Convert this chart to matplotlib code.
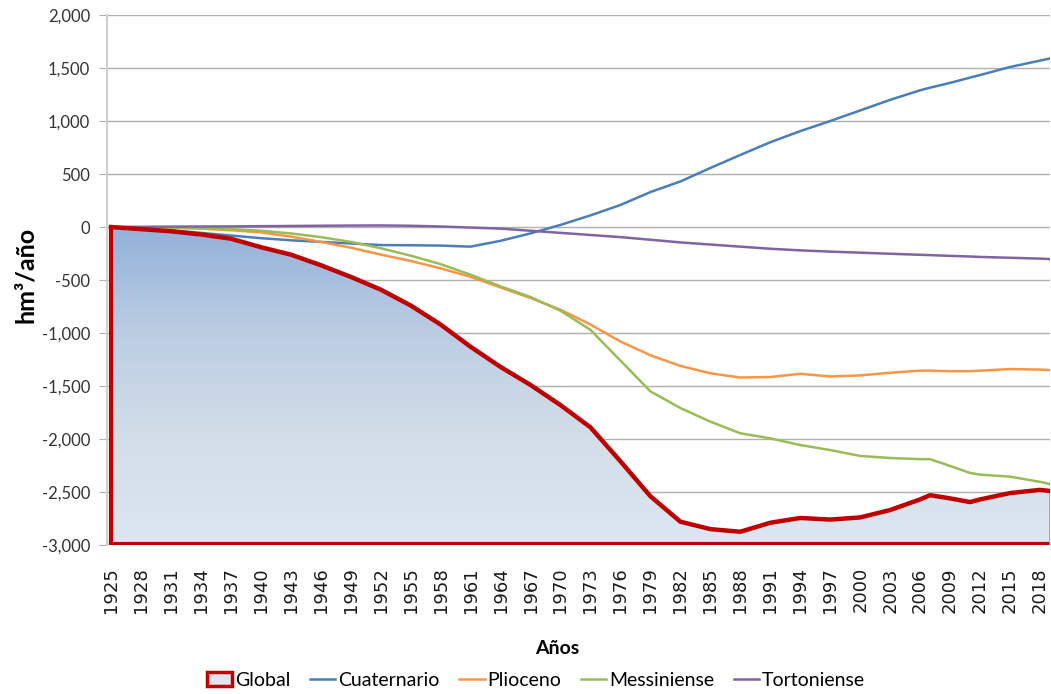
import numpy as np
import matplotlib.pyplot as plt
from matplotlib.colors import LinearSegmentedColormap
from matplotlib.lines import Line2D
from matplotlib.patches import Patch
from matplotlib.ticker import FuncFormatter

years = [1925, 1928, 1931, 1934, 1937, 1940, 1943, 1946, 1949, 1952, 1955, 1958,
         1961, 1964, 1967, 1970, 1973, 1976, 1979, 1982, 1985, 1988, 1991, 1994,
         1997, 2000, 2003, 2006, 2007, 2009, 2011, 2012, 2015, 2018, 2019]

global_vals = [0, -20, -40, -70, -110, -190, -260, -360, -470, -590, -740, -920,
               -1130, -1320, -1490, -1680, -1890, -2210, -2540, -2780, -2850, -2875, -2790, -2745,
               -2760, -2740, -2670, -2570, -2530, -2560, -2595, -2570, -2510, -2480, -2490]
cuaternario = [0, -15, -30, -55, -80, -105, -125, -140, -155, -170, -172, -175,
               -185, -130, -60, 20, 110, 208, 330, 430, 557, 680, 800, 905,
               1000, 1100, 1200, 1290, 1315, 1360, 1410, 1434, 1510, 1570, 1590]
plioceno = [0, -3, -8, -15, -30, -50, -90, -140, -195, -260, -320, -390,
            -470, -570, -670, -780, -920, -1080, -1210, -1310, -1380, -1420, -1415, -1385,
            -1410, -1400, -1375, -1355, -1355, -1360, -1360, -1355, -1340, -1345, -1350]
messiniense = [0, -2, -5, -10, -20, -35, -60, -95, -140, -200, -270, -350,
               -450, -560, -660, -790, -970, -1260, -1550, -1708, -1836, -1946, -1994, -2057,
               -2104, -2160, -2179, -2190, -2190, -2254, -2320, -2336, -2355, -2404, -2425]
tortoniense = [0, 2, 4, 5, 6, 8, 10, 12, 14, 15, 12, 5,
               -5, -15, -35, -55, -75, -95, -120, -145, -165, -185, -205, -220,
               -232, -242, -252, -262, -265, -272, -278, -282, -290, -298, -302]

xtick_years = list(range(1925, 2019, 3))
ytick_vals = list(range(-3000, 2001, 500))

num_font = ['Lato', 'DejaVu Sans']
plt.rcParams['font.family'] = num_font

fig = plt.figure(figsize=(10.51, 6.94), dpi=100)
ax = fig.add_axes([0.1018, 0.2147, 0.8972, 0.7636])

ymin, ymax = -3000, 2000
ax.set_ylim(ymin, ymax)
ax.set_xlim(1924.6, 2019)

# gradient fill for Global area
cmap = LinearSegmentedColormap.from_list('g', ['#93b1da', '#bccde3', '#d3dee8', '#dde6f1'])
grad = np.linspace(0, 1, 256).reshape(-1, 1)
im = ax.imshow(grad, cmap=cmap, aspect='auto', extent=[years[0], years[-1], -3000, 0],
               origin='upper', zorder=1)
poly = ax.fill_between(years, global_vals, ymin, facecolor='none', edgecolor='none', zorder=1)
path = poly.get_paths()[0]
im.set_clip_path(path, transform=ax.transData)

# outline of Global area
ax.plot([years[0], years[0]], [ymin, global_vals[0]], color='#c00000', lw=3, zorder=6,
        solid_capstyle='butt')
ax.plot([years[0], years[-1]], [ymin + 8, ymin + 8], color='#c00000', lw=3, zorder=6)
ax.plot([years[-1], years[-1]], [ymin, global_vals[-1]], color='#e08080', lw=1.2, zorder=6)

ax.plot(years, cuaternario, color='#4a7ebb', lw=1.8, zorder=4)
ax.plot(years, plioceno, color='#f79646', lw=1.8, zorder=4)
ax.plot(years, messiniense, color='#9bbb59', lw=1.8, zorder=4)
ax.plot(years, tortoniense, color='#8064a2', lw=1.8, zorder=4)
ax.plot(years, global_vals, color='#c00000', lw=3.2, zorder=7, solid_joinstyle='round')

ax.set_yticks(ytick_vals)
ax.yaxis.set_major_formatter(FuncFormatter(lambda v, p: f'{int(v):,}'))
ax.set_xticks(xtick_years)
ax.set_xticklabels([str(y) for y in xtick_years], rotation=90,
                   fontfamily='DejaVu Sans', fontsize=13, color='#1a1a1a')
for lab in ax.get_yticklabels():
    lab.set_fontsize(12)
    lab.set_color('#333333')

ax.grid(axis='y', color='#b0b0b0', lw=1.0, zorder=0)
ax.set_axisbelow(True)
for s in ['top', 'right', 'bottom']:
    ax.spines[s].set_visible(False)
ax.spines['left'].set_color('#d0d0d0')
ax.spines['left'].set_linewidth(1.5)
ax.tick_params(axis='y', length=6, color='#b0b0b0', pad=6)
ax.tick_params(axis='x', length=0, pad=16)

fig.text(0.024, 1 - 275 / 694, 'hm³/año', rotation=90, ha='center', va='center',
         fontsize=18, fontweight='bold', family=['Lato', 'DejaVu Sans'])
fig.text(0.53, 1 - 648 / 694, 'Años', ha='center', va='center', fontsize=14,
         fontweight='bold', family=num_font)

handles = [Patch(facecolor='#dde6f1', edgecolor='#c00000', linewidth=2.5),
           Line2D([], [], color='#4a7ebb', lw=1.8),
           Line2D([], [], color='#f79646', lw=1.8),
           Line2D([], [], color='#9bbb59', lw=1.8),
           Line2D([], [], color='#8064a2', lw=1.8)]
labels = ['Global', 'Cuaternario', 'Plioceno', 'Messiniense', 'Tortoniense']
fig.legend(handles, labels, loc='center', bbox_to_anchor=(0.51, 1 - 680 / 694), ncol=5,
           frameon=False, handlelength=1.3, handletextpad=0.15,
           columnspacing=1.0, prop={'family': num_font, 'size': 14})

fig.savefig('out.png', dpi=100)
